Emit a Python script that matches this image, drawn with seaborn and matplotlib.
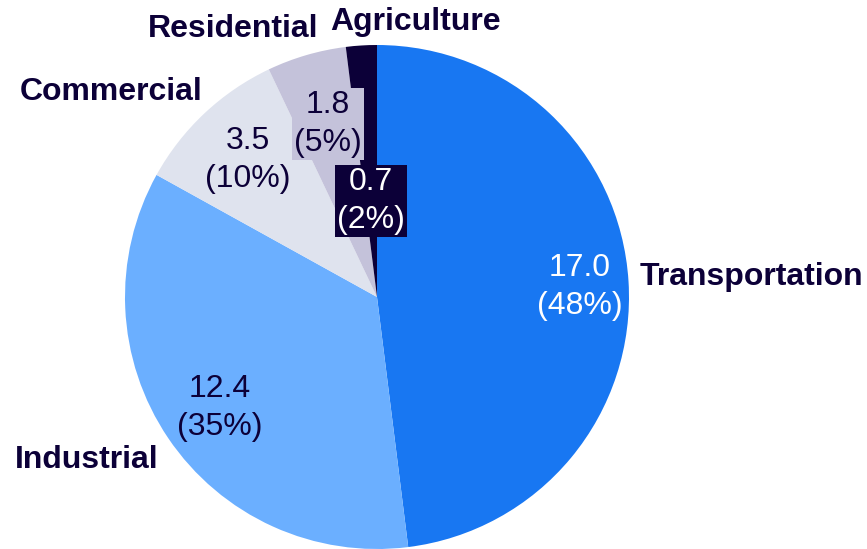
import seaborn as sns
import matplotlib.pyplot as plt

# data
sectors = ['Transportation', 'Industrial', 'Commercial', 'Residential', 'Agriculture']
values = [17.0, 12.4, 3.5, 1.8, 0.7]
shares = ['48%', '35%', '10%', '5%', '2%']
colors = ['#1877F2', '#6BAFFF', '#DFE3EE', '#C4C2DA', '#0C0038']
text_colors = ['white', '#0C0038', '#0C0038', '#0C0038', 'white']

# layout (pixel coords, y measured from top)
W, H = 867, 549
center = (377, 297)
radius = 252
name_pos = [(640, 277), (15, 460), (20, 92), (148, 29), (330, 22)]
value_pos = [(580, 287), (220, 408), (248, 160), (328, 124), (371, 201)]

sns.set_theme(style='white')
plt.rcParams['font.family'] = ['Liberation Sans', 'DejaVu Sans']
navy = '#0C0038'

fig = plt.figure(figsize=(W / 100, H / 100), dpi=100)
ax = fig.add_axes([0, 0, 1, 1])

ax.pie(values, colors=colors, startangle=90, counterclock=False,
       center=(center[0], H - center[1]), radius=radius,
       wedgeprops=dict(linewidth=0))

for i, name in enumerate(sectors):
    x, y = value_pos[i]
    # the big slice needs no box behind its label
    box = None if i == 0 else dict(boxstyle='square,pad=0.08', fc=colors[i], ec='none')
    ax.text(x, H - y, f'{values[i]:.1f}\n({shares[i]})', ha='center', va='center',
            fontsize=23, color=text_colors[i], linespacing=1.32, bbox=box)
    nx, ny = name_pos[i]
    ax.text(nx, H - ny, name, ha='left', va='center', fontsize=23,
            fontweight='bold', color=navy)

ax.set_xlim(0, W)
ax.set_ylim(0, H)
ax.set_aspect('equal')
ax.axis('off')

fig.savefig('out.png', dpi=100)
